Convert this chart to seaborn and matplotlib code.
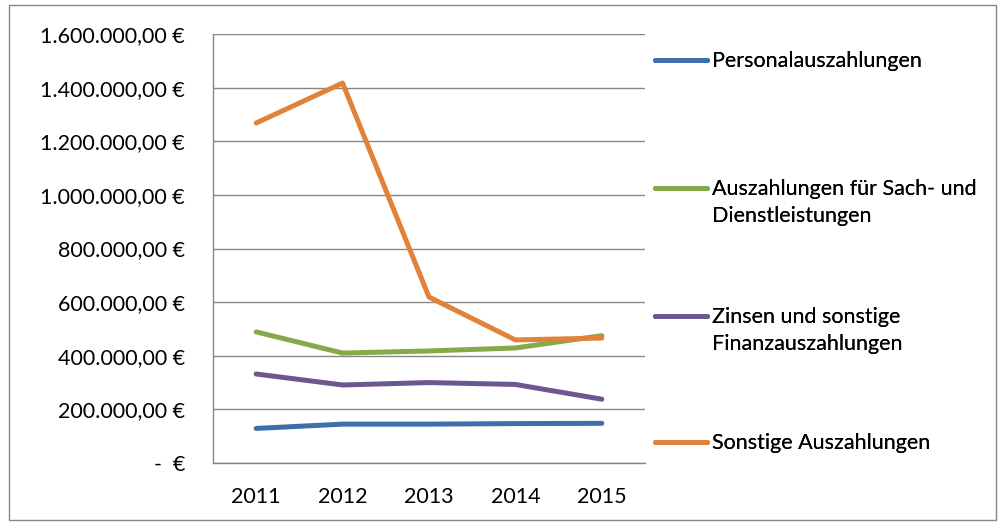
import pandas as pd
import numpy as np
import matplotlib.pyplot as plt
from matplotlib.patches import Rectangle
from matplotlib.ticker import FuncFormatter, FixedLocator
from matplotlib.legend_handler import HandlerLine2D
import seaborn as sns

# data
jahre = ["2011", "2012", "2013", "2014", "2015"]
personal = [129000, 145000, 145000, 147000, 148000]
sach = [489000, 410000, 418000, 429000, 475000]
zinsen = [332000, 291000, 300000, 293000, 238000]
sonstige = [1268000, 1417000, 619000, 459000, 466000]

reihen = ["Personalauszahlungen",
          "Auszahlungen für Sach- und\nDienstleistungen",
          "Zinsen und sonstige\nFinanzauszahlungen",
          "Sonstige Auszahlungen"]
farben = ["#3F6FA8", "#86A94A", "#6E5690", "#E0823A"]

df = pd.DataFrame({"Jahr": jahre * 4,
                   "Wert": personal + sach + zinsen + sonstige,
                   "Reihe": np.repeat(reihen, len(jahre))})

sns.set_style("white")
plt.rcParams['font.family'] = ['Lato', 'DejaVu Sans']
plt.rcParams['text.color'] = 'black'
plt.rcParams['xtick.labelcolor'] = 'black'
plt.rcParams['ytick.labelcolor'] = 'black'
fs = 15.5
zeilen = 1.45
lw = 3.6

fig = plt.figure(figsize=(9.98, 5.23), dpi=100)
ax = fig.add_axes([0.2134, 0.1147, 0.4329, 0.8203])

sns.lineplot(data=df, x="Jahr", y="Wert", hue="Reihe", palette=farben,
             linewidth=lw, ax=ax, sort=False, legend=False)

ax.set_xlim(-0.5, 4.5)
ax.set_ylim(0, 1600000)
ax.yaxis.set_major_locator(FixedLocator(np.arange(0, 1600001, 200000)))

def euro(v, pos):
    if v == 0:
        return "-  €"
    s = f"{v:,.2f}".replace(",", "X").replace(".", ",").replace("X", ".")
    return s + " €"

ax.yaxis.set_major_formatter(FuncFormatter(euro))
ax.set_xticks(range(len(jahre)))
ax.set_xticklabels(jahre)
ax.set_xticks(np.arange(-0.5, 4.6, 1), minor=True)
ax.tick_params(axis="x", which="major", length=0, pad=17, labelsize=fs, labelcolor="black")
ax.tick_params(axis="x", which="minor", length=6.5, color="#868686", width=1, direction="out")
ax.tick_params(axis="y", length=5.8, color="#868686", width=1, direction="out",
               labelsize=fs, pad=14.4, labelcolor="black")
ax.set_xlabel("")
ax.set_ylabel("")

ax.grid(axis="y", color="#868686", linewidth=1)
ax.set_axisbelow(True)
for s in ["top", "right"]:
    ax.spines[s].set_visible(False)
for s in ["left", "bottom"]:
    ax.spines[s].set_color("#868686")
    ax.spines[s].set_linewidth(1)


# legend line next to the first text line, like Excel does
class ErsteZeile(HandlerLine2D):
    def __init__(self, n_zeilen, **kw):
        super().__init__(**kw)
        self.n_zeilen = n_zeilen

    def create_artists(self, legend, orig_handle, xdescent, ydescent, width, height, fontsize, trans):
        arts = super().create_artists(legend, orig_handle, xdescent, ydescent, width, height, fontsize, trans)
        shift = 0.5 * (self.n_zeilen - 1) * zeilen * fontsize
        for a in arts:
            a.set_ydata(np.asarray(a.get_ydata()) + shift)
        return arts


# one box per series, stacked in fixed slots like the original
slots = [0.902, 0.6575, 0.4127, 0.172]
for i, (name, col) in enumerate(zip(reihen, farben)):
    h = plt.Line2D([], [], color=col, linewidth=lw)
    leg = fig.legend([h], [name], loc="upper left", bbox_to_anchor=(0.6563, slots[i]),
                     frameon=False, fontsize=fs, handlelength=2.42, handletextpad=0.23,
                     borderpad=0, borderaxespad=0,
                     handler_map={h: ErsteZeile(name.count("\n") + 1)})
    for t in leg.get_texts():
        t.set_linespacing(zeilen)
        t.set_color("black")
    fig.add_artist(leg)

fig.patches.append(Rectangle((0.009, 0.006), 0.989, 0.985, transform=fig.transFigure,
                             fill=False, edgecolor="#868686", linewidth=1))

fig.savefig("out.png", dpi=100)
